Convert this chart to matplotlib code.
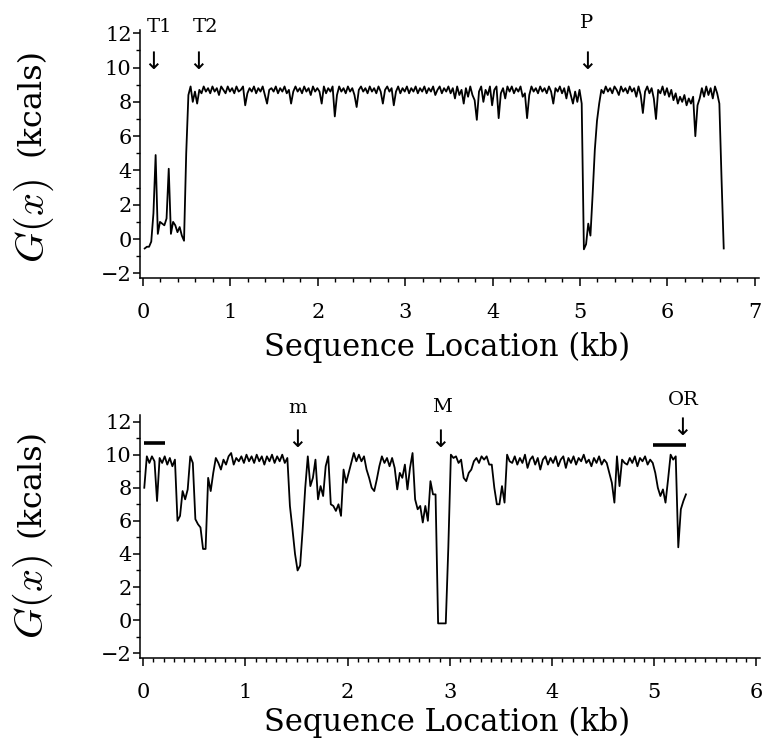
import numpy as np
import matplotlib
matplotlib.use("Agg")
import matplotlib.pyplot as plt
from matplotlib.ticker import MultipleLocator

plt.rcParams['font.family'] = ['DejaVu Serif', 'DejaVu Sans']
plt.rcParams['mathtext.fontset'] = 'cm'

step = 0.025

top_start = 0.02
top_g = [
    -0.55, -0.45, -0.45, -0.15, 1.5, 4.9, 0.3, 1.0, 0.9, 0.8,
    1.2, 4.1, 0.3, 1.0, 0.8, 0.4, 0.7, 0.2, -0.1, 5.0,
    8.4, 8.9, 8.0, 8.6, 7.9, 8.7, 8.5, 8.9, 8.6, 8.8,
    8.5, 8.9, 8.6, 8.8, 8.4, 8.9, 8.7, 8.5, 8.9, 8.6,
    8.8, 8.5, 8.9, 8.6, 8.7, 8.9, 7.8, 8.5, 8.8, 8.6,
    8.9, 8.5, 8.8, 8.6, 8.9, 8.4, 7.9, 8.7, 8.8, 8.6,
    8.9, 8.5, 8.8, 8.6, 8.9, 8.5, 8.7, 7.9, 8.6, 8.9,
    8.6, 8.8, 8.5, 8.9, 8.6, 8.8, 8.4, 8.9, 8.6, 8.8,
    8.6, 7.9, 8.9, 8.5, 8.8, 8.6, 8.9, 7.15, 8.4, 8.9,
    8.6, 8.8, 8.5, 8.9, 8.6, 8.8, 8.4, 7.7, 8.7, 8.9,
    8.6, 8.8, 8.5, 8.9, 8.6, 8.8, 8.5, 8.9, 8.6, 7.9,
    8.7, 8.9, 8.6, 8.8, 7.8, 8.6, 8.9, 8.5, 8.8, 8.6,
    8.9, 8.5, 8.8, 8.6, 8.9, 8.5, 8.8, 8.6, 8.9, 8.5,
    8.8, 8.6, 8.9, 8.4, 8.7, 8.9, 8.5, 8.8, 8.6, 8.9,
    8.5, 8.8, 8.2, 8.9, 8.4, 8.7, 7.9, 8.8, 8.3, 8.9,
    8.4, 8.1, 6.95, 8.6, 8.9, 8.0, 8.7, 8.4, 8.9, 7.8,
    8.7, 8.9, 7.05, 8.5, 8.8, 8.2, 8.9, 8.6, 8.9, 8.5,
    8.8, 8.6, 8.9, 8.3, 8.5, 7.05, 8.4, 8.9, 8.6, 8.8,
    8.5, 8.9, 8.6, 8.8, 8.5, 8.9, 8.6, 7.9, 8.8, 8.6,
    8.9, 8.5, 8.8, 8.2, 8.9, 8.4, 7.9, 8.6, 8.0, 8.7,
    7.9, -0.6, -0.3, 0.9, 0.2, 2.6, 5.2, 6.9, 7.9, 8.7,
    8.5, 8.9, 8.6, 8.8, 8.5, 8.9, 8.7, 8.4, 8.9, 8.6,
    8.8, 8.5, 8.9, 8.6, 8.8, 8.3, 8.9, 8.4, 7.35, 8.6,
    8.9, 8.5, 8.8, 8.2, 7.0, 8.7, 8.5, 8.9, 8.4, 8.8,
    8.3, 8.7, 8.1, 8.5, 7.9, 8.3, 8.0, 8.4, 7.8, 8.2,
    7.9, 8.3, 6.0, 7.8, 8.2, 8.8, 8.3, 8.9, 8.4, 8.8,
    8.2, 8.9, 8.5, 7.9, 3.5, -0.55,
]

bot_start = 0.01
bot_g = [
    8.0, 9.9, 9.5, 9.9, 9.6, 7.2, 9.8, 9.5, 9.9, 9.4,
    9.8, 9.3, 9.7, 6.0, 6.3, 7.8, 7.3, 7.9, 9.9, 9.5,
    6.1, 5.8, 5.6, 4.3, 4.3, 8.6, 7.8, 8.9, 9.8, 9.5,
    9.1, 9.7, 9.4, 9.9, 10.1, 9.4, 9.8, 9.6, 9.9, 9.5,
    10.0, 9.6, 9.9, 9.5, 10.0, 9.6, 9.9, 9.4, 9.9, 9.6,
    10.0, 9.5, 9.9, 9.6, 10.0, 9.5, 9.8, 6.9, 5.5, 4.0,
    3.0, 3.3, 5.5, 8.0, 9.9, 8.1, 8.6, 9.7, 7.3, 8.1,
    7.5, 9.3, 9.9, 7.0, 6.9, 6.6, 7.0, 6.3, 9.1, 8.3,
    8.9, 9.5, 10.1, 9.6, 10.0, 9.6, 9.9, 9.1, 8.6, 8.0,
    7.8, 8.5, 9.3, 9.9, 9.5, 9.8, 9.3, 9.8, 9.2, 7.9,
    8.9, 8.6, 9.4, 7.9, 9.2, 10.1, 7.3, 6.7, 6.9, 5.9,
    6.9, 6.0, 8.4, 7.6, 7.6, -0.2, -0.2, -0.2, -0.2, 4.4,
    10.0, 9.8, 9.9, 9.5, 9.7, 8.6, 8.4, 8.9, 9.1, 9.6,
    9.8, 9.5, 9.9, 9.7, 9.9, 9.4, 9.4, 8.0, 7.0, 7.0,
    8.1, 7.1, 10.0, 9.6, 9.5, 9.9, 9.4, 9.8, 9.5, 10.0,
    9.2, 9.7, 9.9, 9.4, 9.8, 9.1, 9.7, 9.9, 9.4, 9.8,
    9.5, 9.9, 9.3, 9.7, 9.9, 9.2, 9.8, 9.5, 9.9, 9.4,
    9.8, 9.6, 10.0, 9.5, 9.7, 9.3, 9.8, 9.5, 9.9, 9.4,
    9.7, 9.5, 8.9, 8.3, 7.1, 9.9, 8.1, 9.7, 9.5, 9.4,
    9.8, 9.5, 9.9, 9.3, 9.8, 9.6, 9.9, 9.4, 9.7, 9.5,
    8.9, 8.0, 7.5, 7.9, 7.1, 8.5, 10.0, 9.7, 9.9, 4.4,
    6.7, 7.2, 7.6,
]

# marked sites: (label, text kb, arrow kb, text height, arrow height)
top_marks = [("T1", 0.19, 0.115, 12.37, 10.33),
             ("T2", 0.71, 0.63, 12.37, 10.33),
             ("P", 5.08, 5.08, 12.6, 10.33)]
bot_marks = [("m", 1.505, 1.505, 12.83, 10.9),
             ("M", 2.92, 2.90, 12.9, 10.9),
             ("OR", 5.28, 5.27, 13.3, 11.6)]
# horizontal bars in the lower panel: (start kb, end kb, level)
bot_bars = [(0.01, 0.21, 10.7), (4.99, 5.31, 10.6)]


def setup(ax, xmax, xminor, ylo, yhi, xlo):
    ax.set_xlim(xlo, xmax)
    ax.set_ylim(ylo, yhi)
    ax.spines['top'].set_visible(False)
    ax.spines['right'].set_visible(False)
    for s in ['left', 'bottom']:
        ax.spines[s].set_linewidth(1.1)
    ax.xaxis.set_major_locator(MultipleLocator(1))
    ax.xaxis.set_minor_locator(MultipleLocator(xminor))
    ax.yaxis.set_major_locator(MultipleLocator(2))
    ax.yaxis.set_minor_locator(MultipleLocator(1))
    ax.tick_params(axis='x', which='major', direction='out', length=6, width=1.1,
                   pad=12, labelsize=15)
    ax.tick_params(axis='x', which='minor', direction='out', length=3, width=1.0)
    ax.tick_params(axis='y', which='major', direction='out', length=5, width=1.1,
                   pad=1, labelsize=15)
    ax.tick_params(axis='y', which='minor', direction='out', length=3, width=1.0)
    ax.set_xlabel("Sequence Location (kb)", fontsize=22)
    ax.xaxis.label.set_va('center')


def ylab(ax, yk, yg):
    ax.text(-0.176, yk, "(kcals)", fontsize=23, rotation=90, ha='center',
            va='center', transform=ax.transAxes)
    ax.text(-0.172, yg, r"$G(x)$", fontsize=29, rotation=90, ha='center',
            va='center', transform=ax.transAxes)


def marks(ax, items):
    for lab, tx, ax_x, ty, ay in items:
        ax.text(tx, ty, lab, fontsize=14, ha='center', va='center', clip_on=False)
        ax.text(ax_x, ay, "\u2193", fontsize=17, ha='center', va='center',
                clip_on=False, family=['DejaVu Sans'])


fig = plt.figure(figsize=(7.62, 7.38), dpi=100)
ax1 = fig.add_axes([0.1837, 0.6229, 0.8123, 0.3364])
ax2 = fig.add_axes([0.1837, 0.108, 0.8136, 0.3297])

x_top = top_start + step * np.arange(len(top_g))
ax1.plot(x_top, top_g, color='black', lw=1.3)
setup(ax1, 7.048, 0.2, -2.29, 12.19, -0.034)
ax1.xaxis.set_label_coords(0.496, -0.277)
ylab(ax1, 0.71, 0.23)
marks(ax1, top_marks)

x_bot = bot_start + step * np.arange(len(bot_g))
ax2.plot(x_bot, bot_g, color='black', lw=1.3)
for x0, x1, lev in bot_bars:
    ax2.plot([x0, x1], [lev, lev], color='black', lw=2.6, solid_capstyle='butt')
setup(ax2, 6.034, 0.1, -2.31, 12.4, -0.032)
ax2.xaxis.set_label_coords(0.496, -0.262)
ylab(ax2, 0.72, 0.252)
marks(ax2, bot_marks)

fig.savefig("out.png", dpi=100)
